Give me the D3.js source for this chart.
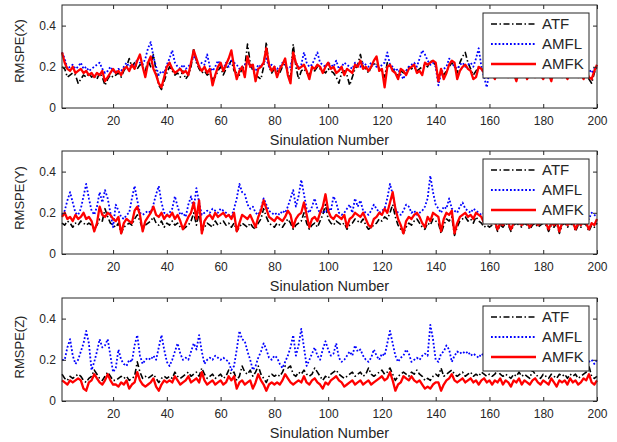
<!DOCTYPE html>
<html>
<head>
<meta charset="utf-8">
<script src="https://cdn.jsdelivr.net/npm/d3@7"></script>
<style>
body { margin: 0; background: #fff; }
text { font-family: Arial, "Liberation Sans", sans-serif; fill: #262626; }
</style>
</head>
<body>
<div id="p"></div>
<script>
// values, one array per series and panel
var xTicks = [20, 40, 60, 80, 100, 120, 140, 160, 180, 200];
var yTicks = [0, 0.2, 0.4];
var seriesNames = ["ATF", "AMFL", "AMFK"];
var axisNames = ["RMSPE(X)", "RMSPE(Y)", "RMSPE(Z)"];
var xName = "Sinulation Number";

var atfX = [.2,.19,.15,.16,.17,.16,.12,.14,.16,.15, .17,.15,.16,.14,.17,.15,.11,.14,.16,.15,
  .16,.17,.15,.18,.2,.24,.2,.22,.19,.21, .2,.18,.23,.2,.26,.18,.11,.09,.13,.17,
  .2,.18,.16,.17,.15,.18,.14,.16,.2,.29, .22,.19,.17,.18,.16,.17,.14,.15,.18,.2,
  .16,.19,.21,.23,.18,.17,.16,.19,.2,.31, .22,.18,.16,.15,.14,.2,.32,.2,.17,.19,
  .18,.17,.2,.22,.17,.15,.31,.2,.14,.18, .19,.17,.16,.19,.18,.2,.19,.18,.17,.19,
  .18,.17,.15,.12,.17,.18,.16,.11,.15,.19, .21,.26,.2,.19,.17,.2,.21,.22,.19,.18,
  .15,.22,.2,.19,.17,.16,.18,.17,.18,.2, .19,.2,.18,.19,.2,.21,.2,.23,.22,.21,
  .15,.18,.16,.18,.2,.22,.2,.17,.22,.25, .27,.22,.19,.16,.18,.2,.19,.18,.2,.19,
  .2,.18,.19,.21,.18,.2,.17,.19,.2,.16, .19,.18,.2,.17,.19,.21,.18,.19,.17,.16,
  .2,.18,.17,.2,.18,.19,.17,.2,.16,.19, .18,.2,.17,.19,.16,.18,.14,.12,.17,.2];
var amflX = [.27,.24,.19,.2,.21,.19,.2,.22,.19,.2, .18,.19,.2,.21,.22,.19,.17,.18,.2,.18,
  .17,.19,.18,.2,.22,.2,.21,.2,.24,.22, .21,.24,.29,.32,.25,.2,.16,.18,.17,.21,
  .24,.28,.22,.2,.19,.21,.19,.2,.22,.25, .23,.2,.22,.21,.26,.2,.18,.2,.23,.21,
  .19,.22,.2,.23,.22,.21,.19,.2,.21,.23, .2,.19,.18,.21,.2,.22,.24,.2,.21,.2,
  .19,.2,.22,.21,.19,.2,.26,.22,.2,.21, .27,.22,.2,.21,.24,.27,.22,.21,.2,.22,
  .21,.2,.23,.19,.2,.22,.21,.2,.19,.22, .21,.2,.22,.21,.2,.22,.21,.2,.19,.21,
  .22,.27,.21,.2,.18,.19,.16,.14,.18,.2, .21,.22,.2,.24,.28,.26,.23,.21,.22,.2,
  .11,.17,.19,.2,.24,.22,.2,.19,.21,.22, .2,.21,.22,.2,.24,.29,.2,.15,.1,.18,
  .2,.21,.19,.22,.2,.21,.18,.2,.22,.19, .21,.2,.18,.22,.2,.19,.21,.2,.18,.21,
  .2,.22,.19,.2,.21,.18,.2,.22,.19,.2, .21,.19,.2,.22,.18,.2,.19,.17,.19,.2];
var amfkX = [.27,.22,.19,.18,.2,.17,.18,.19,.17,.18, .16,.17,.15,.17,.16,.18,.13,.15,.17,.19,
  .17,.18,.16,.19,.2,.18,.21,.19,.23,.26, .2,.15,.22,.25,.19,.16,.12,.1,.15,.2,
  .22,.19,.17,.18,.19,.17,.18,.16,.22,.28, .24,.2,.18,.2,.17,.19,.11,.16,.2,.22,
  .18,.21,.24,.28,.2,.14,.18,.2,.15,.25, .2,.21,.13,.19,.2,.22,.29,.21,.18,.2,
  .15,.19,.21,.24,.16,.12,.27,.22,.19,.2, .21,.18,.14,.2,.19,.21,.2,.17,.2,.22,
  .19,.2,.17,.18,.2,.16,.19,.18,.17,.21, .2,.23,.19,.2,.18,.2,.23,.25,.18,.19,
  .1,.2,.21,.18,.17,.14,.19,.18,.16,.19, .2,.21,.17,.18,.16,.22,.21,.22,.23,.22,
  .13,.19,.14,.17,.21,.23,.22,.14,.18,.2, .21,.19,.18,.14,.15,.2,.19,.17,.16,.18,
  .17,.14,.18,.19,.16,.2,.15,.18,.17,.13, .18,.16,.19,.14,.17,.2,.15,.18,.16,.14,
  .18,.17,.13,.19,.16,.18,.15,.17,.14,.18, .16,.19,.15,.17,.14,.18,.15,.14,.18,.21];

var atfY = [.15,.14,.16,.15,.13,.15,.14,.16,.15,.14, .15,.14,.12,.14,.17,.16,.22,.18,.15,.14,
  .13,.15,.1,.13,.14,.15,.14,.17,.19,.16, .12,.14,.15,.16,.18,.15,.14,.16,.13,.15,
  .14,.16,.14,.15,.13,.12,.13,.14,.16,.2, .14,.2,.11,.13,.15,.14,.13,.16,.14,.15,
  .16,.14,.15,.13,.15,.11,.13,.15,.14,.13, .15,.13,.12,.15,.17,.22,.18,.15,.14,.13,
  .15,.14,.13,.15,.17,.15,.12,.14,.15,.16, .2,.15,.12,.14,.15,.13,.16,.19,.24,.17,
  .15,.14,.16,.15,.14,.15,.12,.14,.15,.17, .16,.15,.17,.14,.12,.13,.14,.15,.17,.16,
  .18,.17,.2,.24,.18,.14,.12,.1,.13,.15, .14,.16,.17,.15,.13,.12,.15,.14,.17,.16,
  .15,.1,.14,.17,.16,.18,.09,.13,.16,.17, .18,.16,.17,.15,.18,.16,.15,.13,.14,.13,
  .14,.15,.11,.14,.13,.15,.14,.11,.14,.15, .14,.13,.15,.14,.12,.14,.15,.13,.14,.15,
  .14,.11,.14,.13,.15,.1,.14,.15,.13,.14, .15,.11,.14,.13,.15,.14,.11,.14,.13,.15];
var amflY = [.19,.21,.26,.3,.25,.2,.19,.22,.28,.34, .27,.21,.19,.23,.3,.25,.31,.27,.2,.13,
  .24,.21,.18,.17,.19,.2,.27,.33,.26,.2, .19,.2,.21,.2,.24,.29,.33,.25,.2,.19,
  .2,.22,.28,.23,.19,.2,.18,.24,.28,.22, .32,.25,.19,.2,.21,.2,.22,.21,.2,.22,
  .21,.2,.19,.18,.22,.27,.34,.3,.29,.24, .22,.23,.2,.19,.22,.27,.24,.21,.2,.19,
  .2,.19,.21,.2,.23,.27,.31,.23,.28,.36, .29,.22,.2,.23,.27,.22,.2,.21,.2,.22,
  .21,.28,.25,.2,.19,.2,.22,.24,.2,.27, .23,.26,.21,.2,.19,.21,.24,.22,.2,.21,
  .22,.27,.34,.29,.22,.2,.19,.21,.24,.23, .2,.21,.19,.2,.21,.23,.27,.38,.3,.24,
  .22,.2,.23,.22,.27,.22,.21,.2,.23,.25, .22,.21,.2,.22,.21,.2,.19,.2,.18,.17,
  .18,.19,.17,.18,.19,.18,.17,.19,.18,.17, .18,.19,.17,.18,.19,.17,.18,.19,.18,.17,
  .18,.19,.18,.17,.19,.18,.17,.19,.18,.17, .18,.19,.17,.18,.19,.18,.17,.2,.19,.18];
var amfkY = [.18,.2,.17,.18,.16,.19,.17,.18,.2,.17, .18,.16,.11,.15,.23,.19,.18,.2,.19,.17,
  .16,.18,.1,.15,.17,.16,.15,.21,.23,.19, .11,.16,.18,.2,.23,.19,.18,.2,.17,.19,
  .18,.2,.17,.19,.16,.12,.15,.18,.2,.25, .17,.26,.1,.16,.18,.19,.17,.2,.18,.19,
  .2,.18,.19,.17,.2,.11,.15,.19,.18,.17, .19,.16,.13,.18,.21,.26,.22,.18,.17,.16,
  .18,.17,.16,.18,.21,.19,.13,.17,.19,.2, .25,.19,.13,.17,.18,.16,.2,.23,.29,.21,
  .18,.17,.19,.18,.17,.19,.13,.17,.18,.2, .19,.18,.2,.17,.14,.13,.17,.18,.2,.19,
  .22,.2,.25,.3,.22,.17,.14,.1,.16,.18, .17,.19,.2,.18,.15,.13,.18,.16,.2,.19,
  .18,.11,.17,.2,.19,.21,.1,.15,.18,.19, .2,.18,.19,.17,.2,.19,.18,.15,.16,.15,
  .15,.16,.12,.15,.14,.16,.15,.12,.15,.16, .15,.14,.16,.15,.13,.15,.16,.14,.15,.16,
  .15,.12,.15,.14,.16,.11,.15,.16,.14,.15, .16,.12,.15,.14,.16,.15,.12,.15,.14,.17];

var atfZ = [.13,.11,.1,.12,.11,.12,.13,.12,.1,.09, .11,.12,.15,.13,.11,.1,.12,.14,.12,.1,
  .1,.11,.12,.11,.12,.1,.11,.12,.19,.14, .11,.12,.11,.12,.13,.11,.09,.11,.12,.11,
  .12,.11,.14,.12,.11,.12,.13,.14,.12,.13, .14,.12,.16,.13,.11,.12,.13,.11,.12,.13,
  .11,.12,.15,.13,.14,.1,.12,.17,.14,.13, .15,.12,.14,.17,.13,.11,.09,.12,.13,.12,
  .13,.12,.14,.17,.16,.17,.13,.12,.14,.13, .15,.13,.12,.13,.16,.14,.12,.1,.12,.11,
  .13,.14,.15,.13,.12,.11,.12,.13,.14,.12, .13,.14,.12,.13,.16,.13,.12,.13,.14,.15,
  .13,.14,.16,.13,.1,.12,.13,.14,.13,.12, .14,.13,.15,.13,.12,.1,.11,.1,.12,.13,
  .12,.16,.12,.13,.14,.15,.13,.12,.13,.14, .12,.13,.14,.12,.13,.12,.14,.13,.12,.13,
  .12,.13,.15,.13,.12,.13,.12,.11,.13,.12, .14,.12,.13,.12,.11,.15,.13,.12,.11,.13,
  .12,.11,.13,.12,.11,.13,.12,.13,.11,.13, .12,.13,.11,.12,.13,.14,.17,.12,.11,.12];
var amflZ = [.2,.2,.26,.3,.22,.18,.2,.24,.28,.34, .28,.15,.19,.24,.3,.26,.27,.3,.22,.14,
  .16,.25,.2,.18,.17,.2,.19,.27,.32,.22, .18,.2,.21,.2,.22,.2,.26,.32,.25,.19,
  .17,.2,.24,.28,.23,.2,.21,.2,.24,.28, .25,.32,.24,.18,.2,.21,.2,.22,.21,.2,
  .21,.2,.19,.15,.17,.25,.34,.3,.29,.24, .2,.15,.17,.21,.24,.28,.25,.21,.2,.22,
  .21,.18,.16,.19,.22,.26,.32,.22,.27,.35, .26,.17,.2,.23,.26,.22,.2,.25,.29,.25,
  .22,.23,.28,.21,.19,.2,.22,.24,.22,.27, .24,.25,.22,.2,.19,.21,.25,.22,.2,.23,
  .22,.28,.34,.28,.22,.19,.21,.22,.25,.23, .19,.2,.21,.2,.22,.23,.22,.37,.3,.2,
  .19,.23,.24,.27,.25,.19,.22,.24,.23,.24, .23,.24,.22,.23,.22,.21,.23,.22,.21,.22,
  .21,.22,.2,.21,.22,.2,.21,.19,.2,.22, .2,.15,.19,.21,.2,.22,.2,.21,.19,.2,
  .21,.2,.19,.21,.2,.22,.2,.19,.21,.2, .2,.21,.19,.2,.22,.21,.19,.2,.18,.2];
var amfkZ = [.1,.09,.08,.1,.09,.1,.11,.1,.06,.05, .09,.1,.13,.11,.09,.08,.1,.13,.1,.08,
  .08,.07,.09,.08,.1,.06,.08,.09,.14,.1, .08,.07,.08,.09,.11,.07,.05,.08,.1,.09,
  .1,.09,.12,.1,.08,.09,.1,.12,.09,.1, .11,.09,.14,.1,.08,.09,.1,.08,.09,.1,
  .08,.09,.12,.1,.12,.06,.09,.1,.08,.09, .1,.06,.09,.13,.1,.08,.05,.08,.09,.08,
  .09,.08,.1,.13,.11,.09,.08,.09,.1,.09, .12,.09,.08,.1,.11,.09,.08,.06,.09,.08,
  .1,.11,.12,.1,.09,.07,.08,.09,.1,.08, .09,.1,.08,.09,.1,.08,.09,.1,.11,.12,
  .1,.11,.14,.1,.05,.08,.09,.12,.11,.1, .12,.1,.09,.1,.08,.06,.07,.06,.08,.09,
  .09,.05,.08,.1,.11,.13,.1,.09,.1,.11, .09,.1,.11,.09,.1,.08,.1,.11,.09,.1,
  .08,.1,.09,.11,.08,.1,.09,.07,.1,.09, .11,.08,.1,.09,.08,.1,.11,.09,.08,.1,
  .09,.08,.11,.09,.07,.1,.09,.1,.08,.11, .09,.1,.08,.09,.11,.1,.13,.09,.08,.1];

// layout
var W = 617, H = 442;
var left = 62, right = 597, ph = 103;
var tops = [5, 151, 298];
var ylabY = [51, 198, 347];
var panelData = [[atfX, amflX, amfkX], [atfY, amflY, amfkY], [atfZ, amflZ, amfkZ]];
var styles = [
  { color: "#000000", width: 1.6, dash: "6,2.5,1.5,2.5" },
  { color: "#0000ff", width: 1.8, dash: "1.8,2" },
  { color: "#ff0000", width: 2.3, dash: null }
];

var svg = d3.select("#p").append("svg")
  .attr("width", W)
  .attr("height", H);

var x = d3.scaleLinear().domain([1, 200]).range([left, right]);

panelData.forEach(function (series, k) {
  var top = tops[k];
  var y = d3.scaleLinear().domain([0, 0.5]).range([top + ph, top]);
  var g = svg.append("g");

  var line = d3.line()
    .x(function (d, i) { return x(i + 1); })
    .y(function (d) { return y(d); });

  series.forEach(function (vals, s) {
    g.append("path")
      .datum(vals)
      .attr("fill", "none")
      .attr("stroke", styles[s].color)
      .attr("stroke-width", styles[s].width)
      .attr("stroke-dasharray", styles[s].dash)
      .attr("stroke-linejoin", "round")
      .attr("d", line);
  });

  // axes, ticks pointing inward like matlab
  var bottom = g.append("g").attr("transform", "translate(0," + (top + ph) + ")")
    .call(d3.axisBottom(x).tickValues(xTicks).tickSizeInner(-4).tickSizeOuter(0));
  bottom.selectAll("text").attr("y", 17).attr("dy", null).style("font-size", "12px");
  g.append("g").attr("transform", "translate(0," + top + ")")
    .call(d3.axisTop(x).tickValues(xTicks).tickSizeInner(-4).tickSizeOuter(0).tickFormat(""));
  var leftAx = g.append("g").attr("transform", "translate(" + left + ",0)")
    .call(d3.axisLeft(y).tickValues(yTicks).tickSizeInner(-4).tickSizeOuter(0).tickPadding(6)
      .tickFormat(function (d) { return String(d); }));
  leftAx.selectAll("text").style("font-size", "12px");
  g.append("g").attr("transform", "translate(" + right + ",0)")
    .call(d3.axisRight(y).tickValues(yTicks).tickSizeInner(-4).tickSizeOuter(0).tickFormat(""));
  g.selectAll(".domain").remove();
  g.selectAll(".tick line").attr("stroke", "#262626");
  g.selectAll(".tick text").attr("fill", "#262626");

  g.append("rect")
    .attr("x", left).attr("y", top)
    .attr("width", right - left).attr("height", ph)
    .attr("fill", "none").attr("stroke", "#262626").attr("stroke-width", 1);

  g.append("text")
    .attr("x", (left + right) / 2).attr("y", top + ph + 37)
    .attr("text-anchor", "middle")
    .style("font-size", "14.5px")
    .text(xName);

  g.append("text")
    .attr("transform", "translate(24," + ylabY[k] + ") rotate(-90)")
    .attr("text-anchor", "middle")
    .style("font-size", "13px")
    .text(axisNames[k]);

  // legend
  var lg = g.append("g").attr("transform", "translate(483," + (top + 8) + ")");
  lg.append("rect")
    .attr("width", 106).attr("height", 65)
    .attr("fill", "#fff").attr("stroke", "#262626").attr("stroke-width", 1);
  seriesNames.forEach(function (name, s) {
    var ly = 11 + s * 20;
    lg.append("line")
      .attr("x1", 8).attr("x2", 53).attr("y1", ly).attr("y2", ly)
      .attr("stroke", styles[s].color)
      .attr("stroke-width", styles[s].width)
      .attr("stroke-dasharray", styles[s].dash);
    lg.append("text")
      .attr("x", 59).attr("y", ly).attr("dy", "0.36em")
      .style("font-size", "15px")
      .text(name);
  });
});
</script>
</body>
</html>
